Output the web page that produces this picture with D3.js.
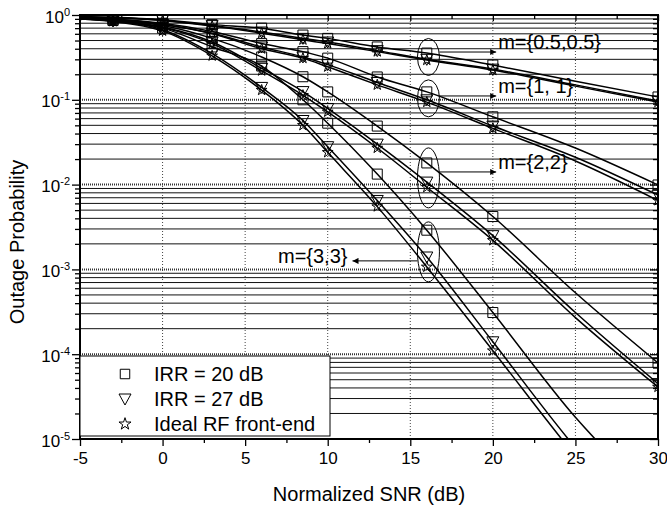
<!DOCTYPE html>
<html>
<head>
<meta charset="utf-8">
<script src="https://cdn.jsdelivr.net/npm/d3@7"></script>
<style>
  body { margin: 0; background: #fff; }
  svg { display: block; }
  text { font-family: "Liberation Sans", Arial, sans-serif; fill: #000; }
</style>
</head>
<body>
<div id="chart"></div>
<script>
// SNR grid the curves are read at, and where the markers sit
const snr = [-5, -3, 0, 3, 6, 8.5, 10, 13, 16, 20, 25, 30];
const markerSnr = [-3, 0, 3, 6, 8.5, 10, 13, 16, 20, 30];

// outage probability, one array per curve
const m05_irr20 = [0.96, 0.94, 0.88, 0.77, 0.70, 0.58, 0.53, 0.42, 0.356, 0.257, 0.165, 0.108];
const m05_irr27 = [0.95, 0.93, 0.87, 0.75, 0.63, 0.53, 0.48, 0.38, 0.30, 0.23, 0.15, 0.097];
const m05_ideal = [0.95, 0.93, 0.86, 0.74, 0.61, 0.51, 0.46, 0.37, 0.294, 0.224, 0.145, 0.094];

const m1_irr20 = [0.94, 0.90, 0.80, 0.64, 0.46, 0.37, 0.31, 0.186, 0.124, 0.063, 0.027, 0.0099];
const m1_irr27 = [0.93, 0.89, 0.78, 0.61, 0.42, 0.32, 0.26, 0.16, 0.10, 0.049, 0.021, 0.0075];
const m1_ideal = [0.93, 0.88, 0.77, 0.60, 0.40, 0.31, 0.245, 0.15, 0.094, 0.046, 0.019, 0.0065];

const m2_irr20 = [0.92, 0.87, 0.75, 0.53, 0.32, 0.187, 0.124, 0.049, 0.018, 0.0042, 5.3e-4, 7.9e-5];
const m2_irr27 = [0.91, 0.86, 0.72, 0.48, 0.235, 0.125, 0.079, 0.030, 0.0107, 0.0025, 3.1e-4, 4.5e-5];
const m2_ideal = [0.91, 0.85, 0.71, 0.46, 0.22, 0.113, 0.072, 0.027, 0.0093, 0.0022, 2.7e-4, 4.1e-5];

const m3_irr20 = [0.91, 0.86, 0.70, 0.42, 0.25, 0.10, 0.053, 0.0133, 0.0029, 3.1e-4, 1.8e-5, 1.8e-6];
const m3_irr27 = [0.90, 0.85, 0.67, 0.35, 0.14, 0.057, 0.028, 0.0065, 0.0014, 1.4e-4, 7.9e-6, 7e-7];
const m3_ideal = [0.90, 0.84, 0.65, 0.33, 0.13, 0.05, 0.024, 0.0055, 0.00107, 1.1e-4, 6.3e-6, 5e-7];

const legendLabels = ["IRR = 20 dB", "IRR = 27 dB", "Ideal RF front-end"];

// ellipse annotations: label, value at ellipse centre, value of arrow, arrow end SNR
const groupLabels = ["m={0.5,0.5}", "m={1, 1}", "m={2,2}", "m={3,3}"];
const ellipseValue = [0.32, 0.104, 0.012, 0.00161];
const arrowValue = [0.366, 0.111, 0.0141, 0.00126];
const arrowEnd = [20.2, 20.2, 20.2, 11.5];

const xTicks = [-5, 0, 5, 10, 15, 20, 25, 30];
const yTicks = [1e-5, 1e-4, 1e-3, 1e-2, 1e-1, 1];

const width = 667, height = 508;
const margin = { left: 80, right: 9, top: 15, bottom: 69 };

const svg = d3.select("#chart").append("svg")
    .attr("width", width)
    .attr("height", height);

const x = d3.scaleLinear().domain([-5, 30]).range([margin.left, width - margin.right]);
const y = d3.scaleLog().domain([1e-5, 1]).range([height - margin.bottom, margin.top]);

const minorY = [];
for (let e = -5; e < 0; e++) {
    for (let k = 2; k <= 9; k++) minorY.push(k * Math.pow(10, e));
}
const minorX = d3.range(-2.5, 30, 5);

const defs = svg.append("defs");
defs.append("clipPath").attr("id", "plotClip")
    .append("rect")
    .attr("x", x(-5)).attr("y", y(1))
    .attr("width", x(30) - x(-5)).attr("height", y(1e-5) - y(1));

// grid
const grid = svg.append("g");
grid.selectAll(".hminor").data(minorY).enter().append("line")
    .attr("x1", x(-5)).attr("x2", x(30))
    .attr("y1", d => y(d)).attr("y2", d => y(d))
    .attr("stroke", "#111").attr("stroke-width", 1);
grid.selectAll(".hmajor").data(yTicks.slice(1, -1)).enter().append("line")
    .attr("x1", x(-5)).attr("x2", x(30))
    .attr("y1", d => y(d)).attr("y2", d => y(d))
    .attr("stroke", "#333").attr("stroke-width", 2).attr("stroke-dasharray", "1,1");
grid.selectAll(".vmajor").data(xTicks.slice(1, -1)).enter().append("line")
    .attr("x1", d => x(d)).attr("x2", d => x(d))
    .attr("y1", y(1)).attr("y2", y(1e-5))
    .attr("stroke", "#444").attr("stroke-width", 1).attr("stroke-dasharray", "1,2");

// curves
const series = [
    { marker: 0, v: m05_irr20 }, { marker: 1, v: m05_irr27 }, { marker: 2, v: m05_ideal },
    { marker: 0, v: m1_irr20 }, { marker: 1, v: m1_irr27 }, { marker: 2, v: m1_ideal },
    { marker: 0, v: m2_irr20 }, { marker: 1, v: m2_irr27 }, { marker: 2, v: m2_ideal },
    { marker: 0, v: m3_irr20 }, { marker: 1, v: m3_irr27 }, { marker: 2, v: m3_ideal }
];

const lineFunc = d3.line()
    .curve(d3.curveMonotoneX)
    .x(d => x(d[0]))
    .y(d => y(d[1]));

const plot = svg.append("g").attr("clip-path", "url(#plotClip)");

plot.selectAll(".curve").data(series).enter().append("path")
    .attr("d", s => lineFunc(snr.map((xv, i) => [xv, s.v[i]])))
    .attr("fill", "none")
    .attr("stroke", "#000")
    .attr("stroke-width", 1.5);

const triPath = "M-6,-5L6,-5L0,6Z";
const symbolPath = [
    d3.symbol().type(d3.symbolSquare).size(100)(),
    triPath,
    d3.symbol().type(d3.symbolStar).size(36)()
];

const markerPoints = [];
series.forEach(s => {
    snr.forEach((xv, i) => {
        if (markerSnr.includes(xv)) markerPoints.push({ x: xv, v: s.v[i], m: s.marker });
    });
});

plot.selectAll(".mark").data(markerPoints).enter().append("path")
    .attr("transform", d => "translate(" + x(d.x) + "," + y(d.v) + ")")
    .attr("d", d => symbolPath[d.m])
    .attr("fill", "none")
    .attr("stroke", "#000")
    .attr("stroke-width", 1);

// annotations
defs.append("marker")
    .attr("id", "arrowHead")
    .attr("viewBox", "0 0 10 10")
    .attr("refX", 10).attr("refY", 5)
    .attr("markerWidth", 10).attr("markerHeight", 6)
    .attr("markerUnits", "userSpaceOnUse")
    .attr("orient", "auto")
    .append("path").attr("d", "M0,0L10,5L0,10Z").attr("fill", "#000");

const ann = svg.append("g");
groupLabels.forEach((label, i) => {
    const cx = x(16.1);
    const ry = i < 2 ? 18.5 : 30;
    ann.append("ellipse")
        .attr("cx", cx).attr("cy", y(ellipseValue[i]))
        .attr("rx", 11).attr("ry", ry)
        .attr("fill", "none").attr("stroke", "#000").attr("stroke-width", 1);
    const goRight = arrowEnd[i] > 16.1;
    const ay = y(arrowValue[i]);
    ann.append("line")
        .attr("x1", goRight ? cx + 11 : cx - 11).attr("x2", x(arrowEnd[i]))
        .attr("y1", ay).attr("y2", ay)
        .attr("stroke", "#000").attr("stroke-width", 1)
        .attr("marker-end", "url(#arrowHead)");
    ann.append("text")
        .attr("x", goRight ? x(arrowEnd[i]) + 2 : x(arrowEnd[i]) - 5)
        .attr("y", goRight ? ay - 3 : ay + 2)
        .attr("text-anchor", goRight ? "start" : "end")
        .attr("font-size", 20)
        .text(label);
});

// axes
const fontSize = 17;
const axisBottomG = svg.append("g").attr("transform", "translate(0," + y(1e-5) + ")");
axisBottomG.call(d3.axisBottom(x).tickValues(xTicks).tickSize(7).tickPadding(4).tickFormat(d => String(d)));
axisBottomG.append("g").call(d3.axisBottom(x).tickValues(minorX).tickSize(4).tickFormat(""));

const axisTopG = svg.append("g").attr("transform", "translate(0," + y(1) + ")");
axisTopG.call(d3.axisTop(x).tickValues(xTicks).tickSize(-6).tickFormat(""));
axisTopG.append("g").call(d3.axisTop(x).tickValues(minorX).tickSize(-4).tickFormat(""));

const axisLeftG = svg.append("g").attr("transform", "translate(" + x(-5) + ",0)");
axisLeftG.call(d3.axisLeft(y).tickValues(yTicks).tickSize(8).tickPadding(3).tickFormat(""));
axisLeftG.append("g").call(d3.axisLeft(y).tickValues(minorY).tickSize(5).tickFormat(""));

const axisRightG = svg.append("g").attr("transform", "translate(" + x(30) + ",0)");
axisRightG.call(d3.axisRight(y).tickValues(yTicks).tickSize(-8).tickFormat(""));
axisRightG.append("g").call(d3.axisRight(y).tickValues(minorY).tickSize(-5).tickFormat(""));

svg.selectAll(".domain").remove();
svg.selectAll(".tick line").attr("stroke", "#000").attr("stroke-width", 1.3);

axisBottomG.selectAll(".tick text")
    .attr("font-size", fontSize)
    .attr("font-family", "Liberation Sans, Arial, sans-serif")
    .attr("dy", "0.85em");

axisLeftG.selectAll(":scope > .tick").select("text").remove();
axisLeftG.selectAll(":scope > .tick").append("text")
    .attr("x", -10)
    .attr("y", 7)
    .attr("text-anchor", "end")
    .attr("font-size", fontSize)
    .attr("font-family", "Liberation Sans, Arial, sans-serif")
    .each(function (d) {
        const t = d3.select(this);
        t.append("tspan").text("10");
        t.append("tspan").attr("dy", -7).attr("font-size", 11).text(String(Math.round(Math.log10(d))));
    });

// frame
svg.append("rect")
    .attr("x", x(-5)).attr("y", y(1))
    .attr("width", x(30) - x(-5)).attr("height", y(1e-5) - y(1))
    .attr("fill", "none").attr("stroke", "#000").attr("stroke-width", 2);

// legend
const legend = svg.append("g");
legend.append("rect")
    .attr("x", x(-5)).attr("y", 356)
    .attr("width", 250).attr("height", 80)
    .attr("fill", "#fff").attr("stroke", "#000").attr("stroke-width", 1);
legendLabels.forEach((label, i) => {
    const ly = 374 + i * 25;
    legend.append("path")
        .attr("transform", "translate(125," + ly + ")")
        .attr("d", i === 1 ? triPath : d3.symbol().type(i === 0 ? d3.symbolSquare : d3.symbolStar).size(i === 0 ? 90 : 45)())
        .attr("fill", "none").attr("stroke", "#000").attr("stroke-width", 1);
    legend.append("text")
        .attr("x", 154).attr("y", ly)
        .attr("dy", "0.35em")
        .attr("font-size", 20)
        .text(label);
});

// axis titles
svg.append("text")
    .attr("x", (x(-5) + x(30)) / 2).attr("y", 501)
    .attr("text-anchor", "middle")
    .attr("font-size", 20)
    .text("Normalized SNR (dB)");

svg.append("text")
    .attr("transform", "translate(24,242) rotate(-90)")
    .attr("text-anchor", "middle")
    .attr("font-size", 20)
    .text("Outage Probability");
</script>
</body>
</html>
